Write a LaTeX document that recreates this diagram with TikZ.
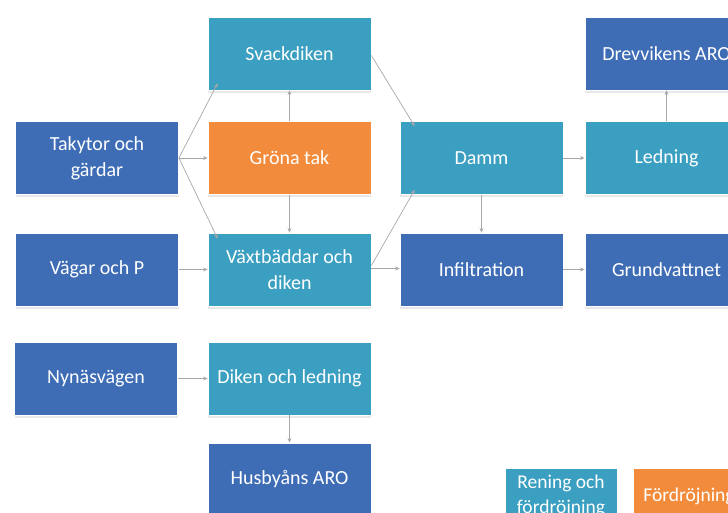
\documentclass[tikz,border=0pt]{standalone}
\usepackage{fontspec}
\setmainfont{Carlito}
\usetikzlibrary{arrows.meta,shadows}
\definecolor{dblue}{HTML}{3E6DB5}
\definecolor{teal}{HTML}{3A9FC0}
\definecolor{orng}{HTML}{F28C3C}
\definecolor{conncol}{HTML}{A8A8A8}
\tikzset{
  boxbase/.style={rectangle, minimum width=163pt, minimum height=73pt, inner sep=0pt,
    align=center, text=white, font=\fontsize{20}{26}\selectfont, draw=white, line width=0.8pt,
    drop shadow={shadow xshift=0pt, shadow yshift=-3pt, fill=gray!50, opacity=0.35}},
  bluebox/.style={boxbase, fill=dblue},
  tealbox/.style={boxbase, fill=teal},
  orangebox/.style={boxbase, fill=orng},
  legendbox/.style={boxbase, minimum width=112pt, minimum height=56pt, font=\fontsize{19.5}{25}\selectfont},
  conn/.style={draw=conncol, line width=0.7pt, -{Stealth[length=4.5pt,width=4pt]}}
}
\begin{document}
\begin{tikzpicture}[x=1pt,y=-1pt]
\useasboundingbox (0,0) rectangle (728,513);
\clip (0,0) rectangle (728,513);
\fill[white] (0,0) rectangle (728,513);
% nodes
\node[tealbox]   (svack) at (289.5,53.5) {Svackdiken};
\node[bluebox]   (tak)   at (97,158)     {Takytor och\\gärdar};
\node[orangebox] (grona) at (289.5,158)  {Gröna tak};
\node[bluebox]   (vagar) at (97,269.5)   {Vägar och P};
\node[tealbox]   (vaxt)  at (289.5,269.5){Växtbäddar och\\diken};
\node[bluebox]   (nynas) at (96,378.5)   {Nynäsvägen};
\node[tealbox]   (diken) at (289.5,378.5){Diken och ledning};
\node[bluebox]   (husby) at (289.5,479.5){Husbyåns ARO};
\node[tealbox]   (damm)  at (481.5,158)  {Damm};
\node[bluebox]   (infil) at (481.5,269.5){Infiltration};
\node[tealbox]   (ledn)  at (666.5,158)  {Ledning};
\node[bluebox]   (drev)  at (666.5,53.5) {Drevvikens ARO};
\node[bluebox]   (grund) at (666.5,269.5){Grundvattnet};
\node[legendbox, fill=teal] (leg1) at (561,496) {Rening och\\fördröjning};
\node[legendbox, fill=orng] (leg2) at (689,496) {Fördröjning};
% connectors
\draw[conn] (tak.east) -- ([xshift=10pt,yshift=7pt]svack.south west);
\draw[conn] (tak.east) -- (grona.west);
\draw[conn] (tak.east) -- ([xshift=10pt,yshift=-6pt]vaxt.north west);
\draw[conn] (grona.north) -- (svack.south);
\draw[conn] (grona.south) -- (vaxt.north);
\draw[conn] (vagar.east) -- (vaxt.west);
\draw[conn] ([yshift=-2pt]svack.east) -- ([xshift=15pt,yshift=-5pt]damm.north west);
\draw[conn] ([yshift=4pt]vaxt.east) -- ([xshift=15pt,yshift=5pt]damm.south west);
\draw[conn] ([yshift=1pt]vaxt.east) -- ([yshift=1pt]infil.west);
\draw[conn] (damm.east) -- (ledn.west);
\draw[conn] (damm.south) -- (infil.north);
\draw[conn] (ledn.north) -- (drev.south);
\draw[conn] (infil.east) -- (grund.west);
\draw[conn] (nynas.east) -- (diken.west);
\draw[conn] (diken.south) -- (husby.north);
\end{tikzpicture}
\end{document}
